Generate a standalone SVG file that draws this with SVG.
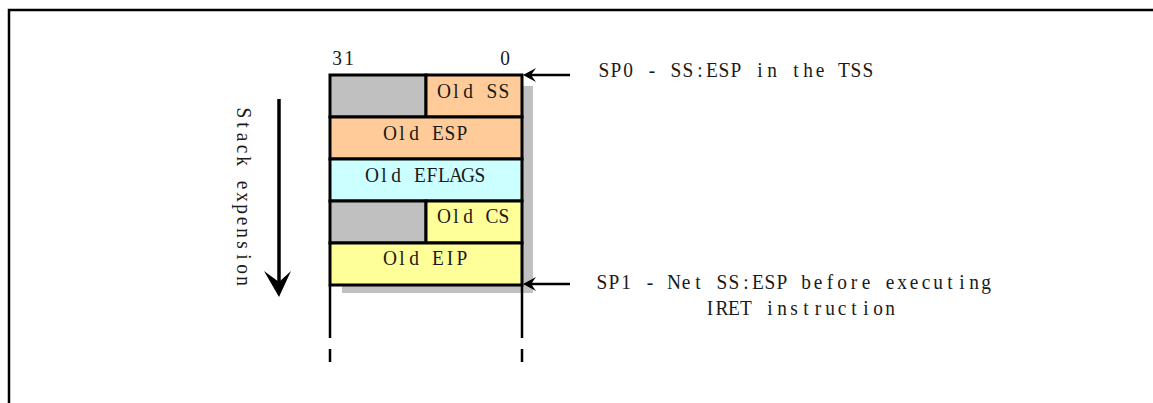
<svg xmlns="http://www.w3.org/2000/svg" width="1153" height="403" viewBox="0 0 1153 403">
<style>
.t{font-family:"Liberation Serif","Times New Roman",serif;font-size:22px;fill:#1a1a1a;text-anchor:middle;}
.cell{stroke:#000;stroke-width:3;}
.ln{stroke:#000;stroke-width:2.5;fill:none;}
.ah{fill:#000;stroke:none;}
</style>
<rect width="1153" height="403" fill="#fff"/>
<path d="M9,403 V10 H1153" stroke="#000" stroke-width="2.5" fill="none"/>
<g id="stack">
  <rect x="342" y="86" width="191" height="207" fill="#c0c0c0"/>
  <g id="row-ss">
    <rect class="cell" x="330" y="75" width="96" height="42" fill="#c0c0c0"/>
    <rect class="cell" x="426" y="75" width="96" height="42" fill="#ffcc99"/>
    <text class="t" transform="translate(438,0) scale(0.88,1)" x="6.82 20.45 34.09 47.73 61.36 75" y="98">Old SS</text>
  </g>
  <g id="row-esp">
    <rect class="cell" x="330" y="117" width="192" height="42" fill="#ffcc99"/>
    <text class="t" transform="translate(384,0) scale(0.88,1)" x="6.82 20.45 34.09 47.73 61.36 75 88.64" y="140">Old ESP</text>
  </g>
  <g id="row-eflags">
    <rect class="cell" x="330" y="159" width="192" height="42" fill="#ccffff"/>
    <text class="t" transform="translate(366,0) scale(0.88,1)" x="6.82 20.45 34.09 47.73 61.36 75 88.64 102.27 115.91 129.55" y="182">Old EFLAGS</text>
  </g>
  <g id="row-cs">
    <rect class="cell" x="330" y="201" width="96" height="42" fill="#c0c0c0"/>
    <rect class="cell" x="426" y="201" width="96" height="42" fill="#ffff99"/>
    <text class="t" transform="translate(438,0) scale(0.88,1)" x="6.82 20.45 34.09 47.73 61.36 75" y="223">Old CS</text>
  </g>
  <g id="row-eip">
    <rect class="cell" x="330" y="243" width="192" height="42" fill="#ffff99"/>
    <text class="t" transform="translate(384,0) scale(0.88,1)" x="6.82 20.45 34.09 47.73 61.36 75 88.64" y="265">Old EIP</text>
  </g>
  <g id="bits">
    <text class="t" transform="translate(331,0) scale(0.88,1)" x="6.82 20.45" y="65">31</text>
    <text class="t" transform="translate(499,0) scale(0.88,1)" x="6.82" y="65">0</text>
  </g>
  <g id="continuation">
    <path class="ln" d="M330,285 V338 M522,285 V338"/>
    <path class="ln" d="M330,349 V362 M522,349 V362"/>
  </g>
</g>
<g id="label-sp0">
  <text class="t" transform="translate(598,0) scale(0.88,1)" x="6.82 20.45 34.09 47.73 61.36 75 88.64 102.27 115.91 129.55 143.18 156.82 170.45 184.09 197.73 211.36 225 238.64 252.27 265.91 279.55 293.18 306.82" y="77">SP0 - SS:ESP in the TSS</text>
</g>
<g id="label-sp1">
  <text class="t" transform="translate(596,0) scale(0.88,1)" x="6.82 20.45 34.09 47.73 61.36 75 88.64 102.27 115.91 129.55 143.18 156.82 170.45 184.09 197.73 211.36 225 238.64 252.27 265.91 279.55 293.18 306.82 320.45 334.09 347.73 361.36 375 388.64 402.27 415.91 429.55 443.18" y="289">SP1 - Net SS:ESP before executing</text>
  <text class="t" transform="translate(704,0) scale(0.88,1)" x="6.82 20.45 34.09 47.73 61.36 75 88.64 102.27 115.91 129.55 143.18 156.82 170.45 184.09 197.73 211.36" y="315">IRET instruction</text>
</g>
<g id="label-stack">
  <text class="t" transform="translate(237,107) rotate(90) scale(0.88,1)" x="6.82 20.45 34.09 47.73 61.36 75 88.64 102.27 115.91 129.55 143.18 156.82 170.45 184.09 197.73" y="0">Stack expension</text>
</g>
<g id="connectors">
  <path d="M279,99 V284" stroke="#000" stroke-width="3.5" fill="none"/>
  <path class="ah" d="M279,297 L264,271 L279,282 L291,271 Z"/>
  <path class="ln" d="M570,75 H527" stroke-width="2"/>
  <path class="ah" d="M523,75 L536,68 L531,75 L536,82 Z"/>
  <path class="ln" d="M570,284 H527" stroke-width="2"/>
  <path class="ah" d="M523,284 L536,277 L531,284 L536,291 Z"/>
</g>
</svg>
